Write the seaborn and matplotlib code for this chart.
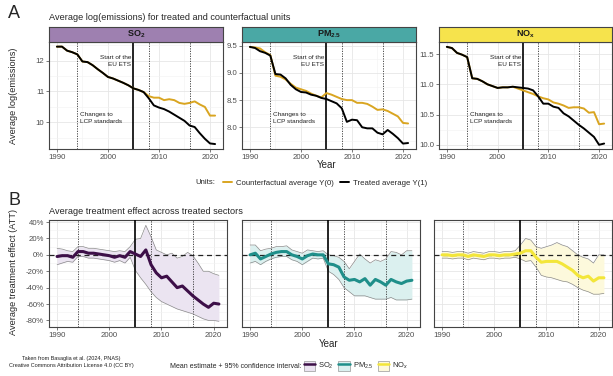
import numpy as np
import pandas as pd
import seaborn as sns
import matplotlib.pyplot as plt
from matplotlib.lines import Line2D
from matplotlib.patches import Patch
from matplotlib.legend_handler import HandlerTuple
import matplotlib.transforms as mtransforms

years = list(range(1990, 2022))

# panel A: average log(emissions)
so2_treated = [12.45, 12.45, 12.32, 12.27, 12.2, 11.97, 11.95, 11.85, 11.72, 11.6, 11.47, 11.42, 11.35, 11.28,
               11.2, 11.1, 11.05, 10.98, 10.78, 10.55, 10.48, 10.43, 10.35, 10.25, 10.15, 10.05, 9.9, 9.85,
               9.65, 9.47, 9.32, 9.3]
so2_counter = [12.45, 12.45, 12.32, 12.27, 12.2, 11.97, 11.95, 11.85, 11.72, 11.6, 11.47, 11.42, 11.35, 11.28,
               11.2, 11.1, 11.05, 10.98, 10.85, 10.8, 10.8, 10.72, 10.75, 10.72, 10.63, 10.6, 10.63, 10.68,
               10.58, 10.5, 10.22, 10.22]
pm_treated = [9.48, 9.46, 9.4, 9.37, 9.32, 8.98, 8.97, 8.9, 8.78, 8.7, 8.65, 8.64, 8.6, 8.58, 8.54, 8.52,
              8.48, 8.44, 8.35, 8.1, 8.14, 8.13, 8.0, 7.98, 7.98, 7.9, 7.87, 7.95, 7.88, 7.8, 7.7, 7.71]
pm_counter = [9.48, 9.47, 9.45, 9.38, 9.33, 8.95, 8.93, 8.88, 8.8, 8.73, 8.7, 8.67, 8.62, 8.58, 8.55, 8.63,
              8.6, 8.56, 8.52, 8.5, 8.5, 8.45, 8.45, 8.43, 8.38, 8.32, 8.33, 8.3, 8.25, 8.2, 8.08, 8.07]
nox_treated = [11.62, 11.6, 11.52, 11.49, 11.45, 11.1, 11.09, 11.05, 11.0, 10.97, 10.94, 10.95, 10.95, 10.96,
               10.95, 10.94, 10.93, 10.9, 10.8, 10.68, 10.68, 10.63, 10.61, 10.52, 10.47, 10.4, 10.33, 10.27,
               10.2, 10.13, 10.0, 10.02]
nox_counter = [11.62, 11.6, 11.52, 11.49, 11.45, 11.1, 11.09, 11.05, 11.0, 10.97, 10.94, 10.95, 10.95, 10.96,
               10.93, 10.9, 10.87, 10.84, 10.8, 10.77, 10.75, 10.7, 10.68, 10.65, 10.61, 10.62, 10.62, 10.6,
               10.53, 10.54, 10.34, 10.35]

# panel B: ATT (%) with 95% CI
so2_att = [-2, -1, -1, -3, 4, 4, 2, 2, 1, 0, -1, -3, -1, -3, 4, 1, -2, 6, -12, -22, -28, -26, -33, -40, -38,
           -44, -50, -55, -60, -64, -59, -60]
so2_hi = [8, 7, 5, 4, 10, 10, 8, 8, 7, 6, 5, 4, 5, 4, 10, 19, 20, 36, 22, 6, 3, 0, 2, -4, -2, 3, -1, -10,
          -20, -20, -23, -25]
so2_lo = [-12, -10, -8, -9, -2, -2, -4, -4, -5, -6, -7, -9, -7, -10, -3, -19, -28, -36, -45, -52, -57, -60,
          -63, -66, -68, -70, -72, -75, -78, -80, -80, -81]
pm_att = [0, 2, -5, -2, 1, 3, 4, 4, 0, -2, -5, -1, 1, 0, 0, -11, -12, -15, -27, -31, -30, -33, -29, -37,
          -30, -33, -37, -30, -33, -35, -32, -31]
pm_hi = [12, 12, 5, 7, 8, 10, 10, 11, 6, 4, 2, 6, 5, 4, 5, 0, -1, -3, -8, -17, -8, 1, -5, -10, -6, -8, -5,
         4, 3, 0, 5, 5]
pm_lo = [-10, -8, -12, -8, -5, -3, -2, -2, -6, -8, -12, -8, -4, -5, -4, -20, -24, -30, -40, -45, -50, -50,
         -50, -52, -54, -54, -54, -52, -55, -55, -55, -54]
nox_att = [0, 0, -1, 0, 0, -2, 0, -1, -2, 0, 0, -1, 0, 0, 1, 2, 5, 5, -3, -9, -8, -8, -8, -11, -15, -19,
           -25, -28, -26, -32, -28, -28]
nox_hi = [4, 4, 3, 4, 4, 2, 4, 3, 2, 4, 4, 3, 4, 4, 5, 12, 20, 18, 10, 8, 10, 12, 15, 12, 10, 5, 0, -3,
          -5, -10, 0, 0]
nox_lo = [-4, -4, -5, -4, -4, -6, -4, -5, -6, -4, -4, -5, -4, -4, -3, -5, -8, -7, -15, -25, -27, -28, -30,
          -32, -33, -36, -40, -43, -45, -48, -48, -47]

pollutants = ['SO2', 'PM2.5', 'NOx']
strip_labels = [r'$\mathbf{SO_2}$', r'$\mathbf{PM_{2.5}}$', r'$\mathbf{NO_x}$']
strip_colors = ['#9e80b0', '#4aa8a5', '#f6e34c']
att_colors = ['#3d0f48', '#1f8f8a', '#f3e63a']
att_fills = ['#ebe4f1', '#dbf0ef', '#fdf9dc']
top_yticks = [[10, 11, 12], [8.0, 8.5, 9.0, 9.5], [10.0, 10.5, 11.0, 11.5]]
top_ylims = [(9.14, 12.6), (7.6, 9.57), (9.93, 11.7)]
pct_ticks = [40, 20, 0, -20, -40, -60, -80]

top_df = pd.DataFrame({
    'year': years * 6,
    'value': so2_counter + so2_treated + pm_counter + pm_treated + nox_counter + nox_treated,
    'units': (['Counterfactual average Y(0)'] * 32 + ['Treated average Y(1)'] * 32) * 3,
    'pollutant': ['SO2'] * 64 + ['PM2.5'] * 64 + ['NOx'] * 64,
})
att_df = pd.DataFrame({
    'year': years * 3,
    'att': so2_att + pm_att + nox_att,
    'hi': so2_hi + pm_hi + nox_hi,
    'lo': so2_lo + pm_lo + nox_lo,
    'pollutant': ['SO2'] * 32 + ['PM2.5'] * 32 + ['NOx'] * 32,
})

sns.set_theme(style='white')
plt.rcParams['font.family'] = ['Liberation Sans', 'DejaVu Sans']
plt.rcParams['mathtext.fontset'] = 'custom'
plt.rcParams['mathtext.rm'] = 'Liberation Sans'
plt.rcParams['mathtext.bf'] = 'Liberation Sans:bold'
plt.rcParams['mathtext.it'] = 'Liberation Sans:italic'

W, H = 613, 376
fig = plt.figure(figsize=(W / 100, H / 100), dpi=100)


def box(x0, y0, x1, y1):
    return [x0 / W, 1 - y1 / H, (x1 - x0) / W, (y1 - y0) / H]


def style_ax(ax, xlim, ylim, major_y, show_yt=True):
    ax.set_xlim(*xlim)
    ax.set_ylim(*ylim)
    ax.set_xticks([1990, 2000, 2010, 2020])
    ax.set_xticks([1995, 2005, 2015], minor=True)
    ax.set_yticks(major_y)
    step = major_y[1] - major_y[0]
    minors = [v + step / 2 for v in [major_y[0] - step] + list(major_y)]
    ax.set_yticks([m for m in minors if ylim[0] < m < ylim[1]], minor=True)
    ax.grid(True, which='major', color='#e6e6e6', lw=0.6, zorder=0)
    ax.grid(True, which='minor', color='#f2f2f2', lw=0.4, zorder=0)
    ax.set_axisbelow(True)
    for s in ax.spines.values():
        s.set_color('#444444')
        s.set_linewidth(0.8)
    ax.tick_params(axis='both', which='major', labelsize=5.6, colors='#444444', length=2, width=0.5,
                   pad=1.5, labelcolor='#4d4d4d', bottom=True, left=show_yt, labelleft=show_yt)
    ax.tick_params(which='minor', length=0)
    ax.set_xlabel('')
    ax.set_ylabel('')


def policy_lines(ax):
    for yr in [1994, 2008, 2016]:
        ax.axvline(yr, color='#333333', lw=0.6, ls=(0, (1.5, 1.5)), zorder=1)
    ax.axvline(2005, color='black', lw=1.2, zorder=3)


xlim = (1988.45, 2022.55)
top_x = [(49, 223), (242, 416), (439, 612)]
for i, pol in enumerate(pollutants):
    x0, x1 = top_x[i]
    ax = fig.add_axes(box(x0, 42, x1, 149))
    policy_lines(ax)
    sub = top_df[top_df['pollutant'] == pol]
    sns.lineplot(data=sub, x='year', y='value', hue='units', ax=ax, legend=False, lw=1.4,
                 palette={'Counterfactual average Y(0)': '#d9a521', 'Treated average Y(1)': 'black'},
                 zorder=4)
    style_ax(ax, xlim, top_ylims[i], top_yticks[i])
    if i != 0:
        ax.set_yticklabels([f'{v:.1f}' for v in top_yticks[i]])
    trans = mtransforms.blended_transform_factory(ax.transData, ax.transAxes)
    ax.text(2004.6, 0.82, 'Start of the\nEU ETS', transform=trans, ha='right', va='center',
            fontsize=4.6, linespacing=1.5, color='#222222')
    ax.text(1994.6, 0.29, 'Changes to\nLCP standards', transform=trans, ha='left', va='center',
            fontsize=4.6, linespacing=1.5, color='#222222')
    # strip
    sax = fig.add_axes(box(x0, 27, x1, 42))
    sax.set_facecolor(strip_colors[i])
    sax.set_xticks([])
    sax.set_yticks([])
    for s in sax.spines.values():
        s.set_color('#444444')
        s.set_linewidth(0.8)
    sax.text(0.5, 0.5, strip_labels[i], ha='center', va='center', fontsize=6.5, transform=sax.transAxes,
             color='#1a1a1a')

bot_x = [(49, 227), (242, 420), (434, 612)]
for i, pol in enumerate(pollutants):
    x0, x1 = bot_x[i]
    ax = fig.add_axes(box(x0, 220, x1, 327))
    sub = att_df[att_df['pollutant'] == pol]
    ax.fill_between(sub['year'], sub['lo'], sub['hi'], color=att_fills[i], lw=0, zorder=1)
    sns.lineplot(data=sub, x='year', y='hi', ax=ax, color='#8a8a8a', lw=0.5, zorder=2)
    sns.lineplot(data=sub, x='year', y='lo', ax=ax, color='#8a8a8a', lw=0.5, zorder=2)
    policy_lines(ax)
    ax.axhline(0, color='#222222', lw=0.9, ls=(0, (4, 3)), zorder=3)
    sns.lineplot(data=sub, x='year', y='att', ax=ax, color=att_colors[i], lw=2.2, zorder=4)
    style_ax(ax, xlim, (-88, 42.5), pct_ticks, show_yt=(i == 0))
    if i == 0:
        ax.set_yticklabels([f'{v}%' for v in pct_ticks])

# titles and labels
fig.text(8 / W, 1 - 13 / H, 'A', fontsize=13, ha='left', va='center')
fig.text(8 / W, 1 - 201 / H, 'B', fontsize=13, ha='left', va='center')
fig.text(49 / W, 1 - 17 / H, 'Average log(emissions) for treated and counterfactual units', fontsize=6.6,
         ha='left', va='center')
fig.text(49 / W, 1 - 211 / H, 'Average treatment effect across treated sectors', fontsize=6.6,
         ha='left', va='center')
fig.text(13 / W, 1 - 96 / H, 'Average log(emissions)', fontsize=6.6, rotation=90, ha='center', va='center')
fig.text(13 / W, 1 - 272 / H, 'Average treatment effect (ATT)', fontsize=6.6, rotation=90, ha='center',
         va='center')
fig.text(327 / W, 1 - 165 / H, 'Year', fontsize=7, ha='center', va='center')
fig.text(329 / W, 1 - 344 / H, 'Year', fontsize=7, ha='center', va='center')

# top legend
fig.text(195 / W, 1 - 183 / H, 'Units:', fontsize=5.6, ha='left', va='center')
h_top = [Line2D([], [], color='#d9a521', lw=1.4), Line2D([], [], color='black', lw=1.4)]
fig.legend(h_top, ['Counterfactual average Y(0)', 'Treated average Y(1)'], loc='center left',
           bbox_to_anchor=(223 / W, 1 - 183 / H), ncol=2, frameon=False, fontsize=5.6, handlelength=1.2,
           handletextpad=0.5, columnspacing=0.7, borderpad=0, borderaxespad=0)

# bottom legend
fig.text(170 / W, 1 - 366 / H, 'Mean estimate + 95% confidence interval:', fontsize=5, ha='left',
         va='center')
h_bot = [(Patch(facecolor=att_fills[k], edgecolor='#999999', lw=0.5),
          Line2D([], [], color=att_colors[k], lw=1.8)) for k in range(3)]
fig.legend(h_bot, [r'SO$_2$', r'PM$_{2.5}$', r'NO$_x$'], loc='center left',
           bbox_to_anchor=(304 / W, 1 - 366 / H), ncol=3, frameon=False, fontsize=5.4, handlelength=1.5,
           handleheight=1.7, handletextpad=0.4, columnspacing=0.6, borderpad=0, borderaxespad=0,
           handler_map={tuple: HandlerTuple(ndivide=1)})

fig.text(71 / W, 1 - 362 / H, 'Taken from Basaglia et al. (2024, PNAS)\nCreative Commons Attribution License 4.0 (CC BY)',
         fontsize=4.0, ha='center', va='center', linespacing=1.5, color='#222222')

fig.savefig('out.png', dpi=100)
